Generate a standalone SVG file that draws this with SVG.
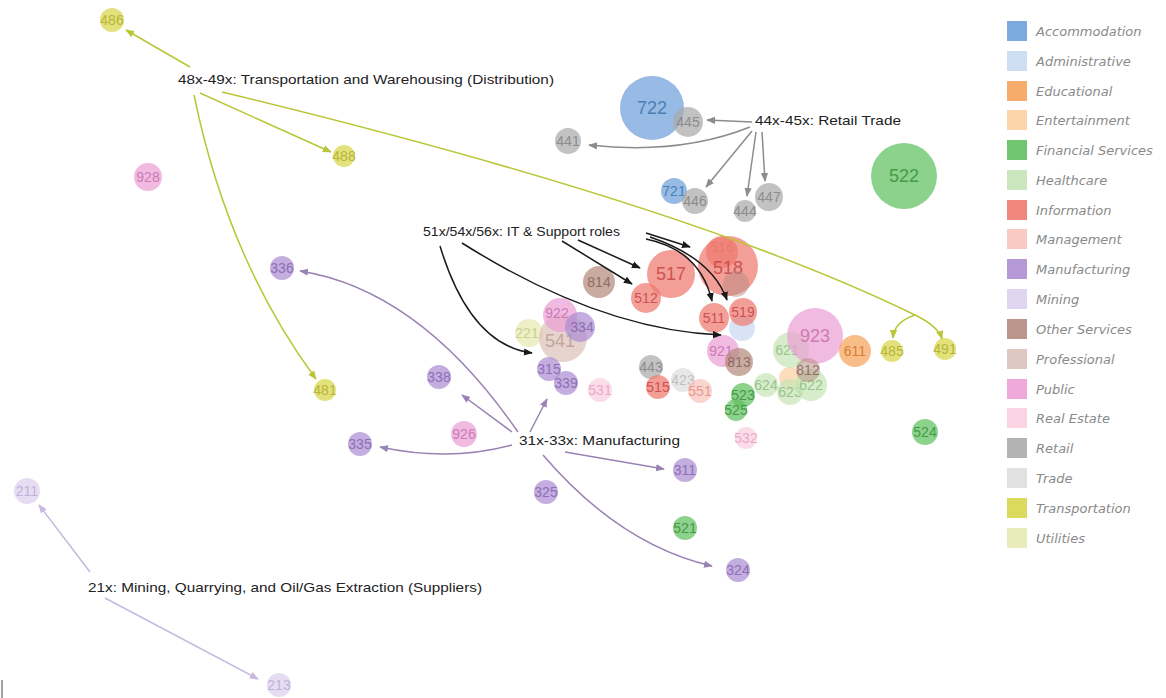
<svg xmlns="http://www.w3.org/2000/svg" width="1166" height="698" viewBox="0 0 1166 698">
<style>
.n circle{opacity:.72}
.n text{font-family:"Liberation Sans",Arial,sans-serif;font-size:14px;text-anchor:middle;dominant-baseline:central;opacity:.75}
.big text{font-size:18px}
.lbl{font-family:"Liberation Sans",Arial,sans-serif;font-size:13.5px;fill:#222}
#legend text{font-family:"DejaVu Sans",sans-serif;font-style:italic;font-size:13px;fill:#8a8a8a}
.acc circle,.acc rect{fill:#6fa1da}.acc text{fill:#2f6aa8}
.adm circle,.adm rect{fill:#c9daf2}.adm text{fill:#7f9cc6}
.edu circle,.edu rect{fill:#f6a35c}.edu text{fill:#d0671c}
.ent circle,.ent rect{fill:#fcd0a2}.ent text{fill:#d89a5a}
.fin circle,.fin rect{fill:#60bf60}.fin text{fill:#2d8a2d}
.hea circle,.hea rect{fill:#c6e4b6}.hea text{fill:#86b676}
.inf circle,.inf rect{fill:#ee7a70}.inf text{fill:#c2383a}
.man circle,.man rect{fill:#f8c4bc}.man text{fill:#e08880}
.mfg circle,.mfg rect{fill:#ad8ed2}.mfg text{fill:#7d5aa8}
.min circle,.min rect{fill:#dcd0ee}.min text{fill:#b4a2d4}
.oth circle,.oth rect{fill:#b48a7e}.oth text{fill:#7e574c}
.pro circle,.pro rect{fill:#dcc2ba}.pro text{fill:#b8968c}
.pub circle,.pub rect{fill:#eca0d6}.pub text{fill:#c166a8}
.rea circle,.rea rect{fill:#f9cfe0}.rea text{fill:#e89ab8}
.ret circle,.ret rect{fill:#ababab}.ret text{fill:#7a7a7a}
.tra circle,.tra rect{fill:#dedede}.tra text{fill:#b4b4b4}
.trn circle,.trn rect{fill:#d8d64a}.trn text{fill:#aaa820}
.uti circle,.uti rect{fill:#e6eab2}.uti text{fill:#c2c680}
.c path{fill:none;stroke-width:1.5}
.cy{stroke:#b9c636}.cg{stroke:#8c8c8c}.ck{stroke:#1a1a1a}.cp{stroke:#9a82b4}.cl{stroke:#c6b8de}
#legend rect{opacity:.9}
</style>
<defs>
<marker id="ay" viewBox="0 0 10 10" refX="9" refY="5" markerWidth="6" markerHeight="6" orient="auto"><path d="M0,1L10,5L0,9z" fill="#b9c636"/></marker>
<marker id="ag" viewBox="0 0 10 10" refX="9" refY="5" markerWidth="6" markerHeight="6" orient="auto"><path d="M0,1L10,5L0,9z" fill="#8c8c8c"/></marker>
<marker id="ak" viewBox="0 0 10 10" refX="9" refY="5" markerWidth="6" markerHeight="6" orient="auto"><path d="M0,1L10,5L0,9z" fill="#1a1a1a"/></marker>
<marker id="ap" viewBox="0 0 10 10" refX="9" refY="5" markerWidth="6" markerHeight="6" orient="auto"><path d="M0,1L10,5L0,9z" fill="#9a82b4"/></marker>
<marker id="al" viewBox="0 0 10 10" refX="9" refY="5" markerWidth="6" markerHeight="6" orient="auto"><path d="M0,1L10,5L0,9z" fill="#c6b8de"/></marker>
</defs>
<rect width="1166" height="698" fill="#fff"/>

<g id="nodes">
<g id="n486" class="n trn"><circle cx="112" cy="20" r="12"/><text x="112" y="20">486</text></g>
<g id="n488" class="n trn"><circle cx="344" cy="156" r="11"/><text x="344" y="156">488</text></g>
<g id="n481" class="n trn"><circle cx="325" cy="390" r="11"/><text x="325" y="390">481</text></g>
<g id="n485" class="n trn"><circle cx="892" cy="351" r="11"/><text x="892" y="351">485</text></g>
<g id="n491" class="n trn"><circle cx="945" cy="349" r="11"/><text x="945" y="349">491</text></g>
<g id="n928" class="n pub"><circle cx="148" cy="177" r="14"/><text x="148" y="177">928</text></g>
<g id="n722" class="n acc big"><circle cx="652" cy="108" r="32"/><text x="652" y="108">722</text></g>
<g id="n445" class="n ret"><circle cx="688" cy="122" r="15"/><text x="688" y="122">445</text></g>
<g id="n441" class="n ret"><circle cx="568" cy="141" r="13"/><text x="568" y="141">441</text></g>
<g id="n721" class="n acc"><circle cx="674" cy="191" r="13"/><text x="674" y="191">721</text></g>
<g id="n446" class="n ret"><circle cx="695" cy="201" r="13"/><text x="695" y="201">446</text></g>
<g id="n444" class="n ret"><circle cx="745" cy="211" r="11"/><text x="745" y="211">444</text></g>
<g id="n447" class="n ret"><circle cx="769" cy="197" r="14"/><text x="769" y="197">447</text></g>
<g id="n522" class="n fin big"><circle cx="904" cy="176" r="33"/><text x="904" y="176">522</text></g>
<g id="n336" class="n mfg"><circle cx="282" cy="268" r="12"/><text x="282" y="268">336</text></g>
<g id="n338" class="n mfg"><circle cx="439" cy="377" r="12"/><text x="439" y="377">338</text></g>
<g id="n335" class="n mfg"><circle cx="360" cy="444" r="12"/><text x="360" y="444">335</text></g>
<g id="n926" class="n pub"><circle cx="464" cy="434" r="13"/><text x="464" y="434">926</text></g>
<g id="n311" class="n mfg"><circle cx="685" cy="470" r="12"/><text x="685" y="470">311</text></g>
<g id="n325" class="n mfg"><circle cx="546" cy="492" r="12"/><text x="546" y="492">325</text></g>
<g id="n521" class="n fin"><circle cx="685" cy="528" r="12"/><text x="685" y="528">521</text></g>
<g id="n324" class="n mfg"><circle cx="738" cy="570" r="12"/><text x="738" y="570">324</text></g>
<g id="n211" class="n min"><circle cx="27" cy="491" r="13"/><text x="27" y="491">211</text></g>
<g id="n213" class="n min"><circle cx="279" cy="685" r="12"/><text x="279" y="685">213</text></g>
<g id="n524" class="n fin"><circle cx="925" cy="432" r="13"/><text x="925" y="432">524</text></g>
<g id="n532" class="n rea"><circle cx="746" cy="438" r="11"/><text x="746" y="438">532</text></g>
<g id="n221" class="n uti"><circle cx="529" cy="333" r="14"/><text x="527" y="333">221</text></g>
<g id="n541" class="n pro big"><circle cx="563" cy="338" r="24"/><text x="560" y="341">541</text></g>
<g id="n922" class="n pub"><circle cx="560" cy="315" r="17"/><text x="557" y="313">922</text></g>
<g id="n334" class="n mfg"><circle cx="580" cy="327" r="15"/><text x="582" y="327">334</text></g>
<g id="n315" class="n mfg"><circle cx="549" cy="369" r="12"/><text x="549" y="369">315</text></g>
<g id="n339" class="n mfg"><circle cx="566" cy="383" r="12"/><text x="566" y="383">339</text></g>
<g id="n531" class="n rea"><circle cx="600" cy="390" r="12"/><text x="600" y="390">531</text></g>
<g id="n814" class="n oth"><circle cx="599" cy="282" r="16"/><text x="599" y="282">814</text></g>
<g id="n517" class="n inf big"><circle cx="671" cy="274" r="24"/><text x="671" y="274">517</text></g>
<g id="n512" class="n inf"><circle cx="646" cy="298" r="15"/><text x="646" y="298">512</text></g>
<g id="n516" class="n inf"><circle cx="722" cy="252" r="16"/><text x="722" y="247" style="opacity:.45">516</text></g>
<g id="n518" class="n inf big"><circle cx="728" cy="266" r="30"/><text x="728" y="268">518</text></g>
<g id="n811" class="n oth"><circle cx="736" cy="284" r="13" style="opacity:.45"/></g>
<g id="n561" class="n adm"><circle cx="742" cy="328" r="13"/></g>
<g id="n519" class="n inf"><circle cx="743" cy="312" r="14"/><text x="743" y="312">519</text></g>
<g id="n511" class="n inf"><circle cx="714" cy="318" r="15"/><text x="714" y="318">511</text></g>
<g id="n921" class="n pub"><circle cx="723" cy="351" r="16"/><text x="721" y="351">921</text></g>
<g id="n813" class="n oth"><circle cx="739" cy="362" r="14"/><text x="739" y="362">813</text></g>
<g id="n443" class="n ret"><circle cx="651" cy="367" r="12"/><text x="651" y="367">443</text></g>
<g id="n515" class="n inf"><circle cx="658" cy="387" r="12"/><text x="658" y="387">515</text></g>
<g id="n423" class="n tra"><circle cx="683" cy="380" r="12"/><text x="683" y="380">423</text></g>
<g id="n551" class="n man"><circle cx="700" cy="391" r="12"/><text x="700" y="391">551</text></g>
<g id="n621" class="n hea"><circle cx="791" cy="350" r="18"/><text x="787" y="350">621</text></g>
<g id="n923" class="n pub big"><circle cx="815" cy="336" r="28"/><text x="815" y="336">923</text></g>
<g id="n611" class="n edu"><circle cx="855" cy="351" r="16"/><text x="855" y="351">611</text></g>
<g id="n713" class="n ent"><circle cx="790" cy="378" r="11"/></g>
<g id="n624" class="n hea"><circle cx="766" cy="385" r="12"/><text x="766" y="385">624</text></g>
<g id="n623" class="n hea"><circle cx="790" cy="392" r="13"/><text x="790" y="392">623</text></g>
<g id="n622" class="n hea"><circle cx="811" cy="385" r="16"/><text x="811" y="385">622</text></g>
<g id="n812" class="n oth"><circle cx="808" cy="370" r="12" style="opacity:.5"/><text x="808" y="370">812</text></g>
<g id="n523" class="n fin"><circle cx="743" cy="395" r="12"/><text x="743" y="395">523</text></g>
<g id="n525" class="n fin"><circle cx="736" cy="410" r="11"/><text x="736" y="410">525</text></g>
</g>

<g id="connectors" class="c">
<path class="cy" d="M190,67L126,30" marker-end="url(#ay)"/>
<path class="cy" d="M200,93L331,152" marker-end="url(#ay)"/>
<path class="cy" d="M194,95Q228,260 316,379" marker-end="url(#ay)"/>
<path class="cy" d="M222,92Q690,205 915,315Q938,326 942,339" marker-end="url(#ay)"/>
<path class="cy" d="M915,315Q894,322 893,338" marker-end="url(#ay)"/>
<path class="cg" d="M752,122L707,120" marker-end="url(#ag)"/>
<path class="cg" d="M750,127Q680,155 589,145" marker-end="url(#ag)"/>
<path class="cg" d="M752,131L706,187" marker-end="url(#ag)"/>
<path class="cg" d="M756,132L747,196" marker-end="url(#ag)"/>
<path class="cg" d="M762,132L765,181" marker-end="url(#ag)"/>
<path class="ck" d="M646,233L690,247" marker-end="url(#ak)"/>
<path class="ck" d="M578,240L640,268" marker-end="url(#ak)"/>
<path class="ck" d="M562,241L632,284" marker-end="url(#ak)"/>
<path class="ck" d="M646,239Q700,250 712,301" marker-end="url(#ak)"/>
<path class="ck" d="M650,237Q712,258 727,300" marker-end="url(#ak)"/>
<path class="ck" d="M462,243Q600,330 721,335" marker-end="url(#ak)"/>
<path class="ck" d="M440,246Q470,345 532,353" marker-end="url(#ak)"/>
<path class="cp" d="M518,432Q420,290 300,271" marker-end="url(#ap)"/>
<path class="cp" d="M512,432L462,395" marker-end="url(#ap)"/>
<path class="cp" d="M512,445Q450,462 380,447" marker-end="url(#ap)"/>
<path class="cp" d="M530,432L547,399" marker-end="url(#ap)"/>
<path class="cp" d="M565,452L664,469" marker-end="url(#ap)"/>
<path class="cp" d="M543,455Q620,545 712,566" marker-end="url(#ap)"/>
<path class="cl" d="M90,572L39,505" marker-end="url(#al)"/>
<path class="cl" d="M105,598L258,679" marker-end="url(#al)"/>
</g>

<g id="labels">
<text class="lbl" x="178" y="84" textLength="376" lengthAdjust="spacingAndGlyphs">48x-49x: Transportation and Warehousing (Distribution)</text>
<text class="lbl" x="755" y="125" textLength="146" lengthAdjust="spacingAndGlyphs">44x-45x: Retail Trade</text>
<text class="lbl" x="423" y="236" textLength="197" lengthAdjust="spacingAndGlyphs">51x/54x/56x: IT &amp; Support roles</text>
<text class="lbl" x="519" y="445" textLength="161" lengthAdjust="spacingAndGlyphs">31x-33x: Manufacturing</text>
<text class="lbl" x="88" y="592" textLength="394" lengthAdjust="spacingAndGlyphs">21x: Mining, Quarrying, and Oil/Gas Extraction (Suppliers)</text>
</g>

<g id="legend">
<g class="acc"><rect x="1007" y="21" width="20" height="20"/><text x="1036" y="36">Accommodation</text></g>
<g class="adm"><rect x="1007" y="51" width="20" height="20"/><text x="1036" y="66">Administrative</text></g>
<g class="edu"><rect x="1007" y="81" width="20" height="20"/><text x="1036" y="96">Educational</text></g>
<g class="ent"><rect x="1007" y="110" width="20" height="20"/><text x="1036" y="125">Entertainment</text></g>
<g class="fin"><rect x="1007" y="140" width="20" height="20"/><text x="1036" y="155">Financial Services</text></g>
<g class="hea"><rect x="1007" y="170" width="20" height="20"/><text x="1036" y="185">Healthcare</text></g>
<g class="inf"><rect x="1007" y="200" width="20" height="20"/><text x="1036" y="215">Information</text></g>
<g class="man"><rect x="1007" y="229" width="20" height="20"/><text x="1036" y="244">Management</text></g>
<g class="mfg"><rect x="1007" y="259" width="20" height="20"/><text x="1036" y="274">Manufacturing</text></g>
<g class="min"><rect x="1007" y="289" width="20" height="20"/><text x="1036" y="304">Mining</text></g>
<g class="oth"><rect x="1007" y="319" width="20" height="20"/><text x="1036" y="334">Other Services</text></g>
<g class="pro"><rect x="1007" y="349" width="20" height="20"/><text x="1036" y="364">Professional</text></g>
<g class="pub"><rect x="1007" y="379" width="20" height="20"/><text x="1036" y="394">Public</text></g>
<g class="rea"><rect x="1007" y="408" width="20" height="20"/><text x="1036" y="423">Real Estate</text></g>
<g class="ret"><rect x="1007" y="438" width="20" height="20"/><text x="1036" y="453">Retail</text></g>
<g class="tra"><rect x="1007" y="468" width="20" height="20"/><text x="1036" y="483">Trade</text></g>
<g class="trn"><rect x="1007" y="498" width="20" height="20"/><text x="1036" y="513">Transportation</text></g>
<g class="uti"><rect x="1007" y="528" width="20" height="20"/><text x="1036" y="543">Utilities</text></g>
</g>
<line x1="2" y1="680" x2="2" y2="698" stroke="#444" stroke-width="1"/>
</svg>
